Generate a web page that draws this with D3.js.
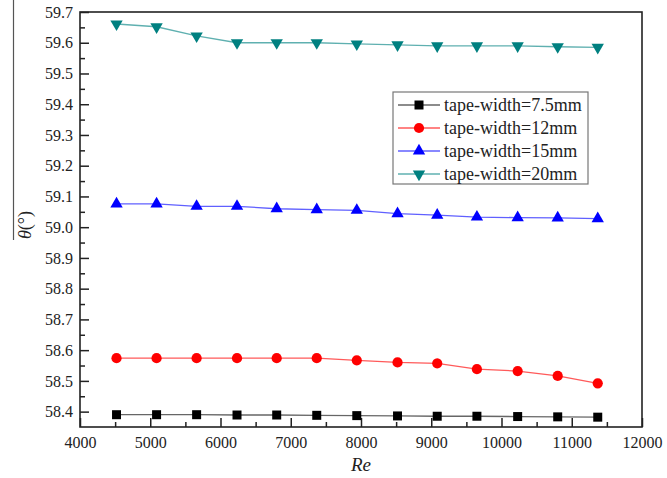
<!DOCTYPE html>
<html>
<head>
<meta charset="utf-8">
<script src="https://cdn.jsdelivr.net/npm/d3@7"></script>
<style>
  html, body { margin: 0; padding: 0; background: #fff; }
  svg, svg text { font-family: "Liberation Serif", "Times New Roman", Times, serif; }
</style>
</head>
<body>
<svg id="chart" width="667" height="478"></svg>
<script>
// Reynolds numbers shared by all four series
const reValues = [4520, 5090, 5660, 6235, 6800, 7370, 7940, 8520, 9085, 9650, 10230, 10800, 11370];

// Mean angle for each tape width
const theta75 = [58.390, 58.390, 58.390, 58.389, 58.389, 58.388, 58.387, 58.386, 58.385, 58.385, 58.384, 58.383, 58.382];
const theta12 = [58.574, 58.574, 58.574, 58.574, 58.574, 58.574, 58.567, 58.560, 58.557, 58.538, 58.532, 58.516, 58.492];
const theta15 = [59.076, 59.076, 59.068, 59.068, 59.060, 59.057, 59.055, 59.044, 59.039, 59.033, 59.031, 59.030, 59.028];
const theta20 = [59.661, 59.652, 59.622, 59.600, 59.600, 59.600, 59.596, 59.593, 59.590, 59.590, 59.590, 59.587, 59.585];

const seriesNames = ["tape-width=7.5mm", "tape-width=12mm", "tape-width=15mm", "tape-width=20mm"];

const xTicks = [4000, 5000, 6000, 7000, 8000, 9000, 10000, 11000, 12000];
const yTicks = [58.4, 58.5, 58.6, 58.7, 58.8, 58.9, 59.0, 59.1, 59.2, 59.3, 59.4, 59.5, 59.6, 59.7];

const svg = d3.select("#chart");
const plotL = 80, plotR = 642, plotT = 12, plotB = 427;
const serif = '"Liberation Serif", "Times New Roman", Times, serif';

const x = d3.scaleLinear().domain([4000, 12000]).range([plotL, plotR]);
const y = d3.scaleLinear().domain([58.35, 59.7]).range([plotB, plotT]);

const styles = [
  { marker: "#000000", line: "#666666", symbol: d3.symbolSquare, size: 81, rotate: 0 },
  { marker: "#ff0000", line: "#ff5a5a", symbol: d3.symbolCircle, size: 82, rotate: 0 },
  { marker: "#0000ff", line: "#6060ff", symbol: d3.symbolTriangle, size: 66, rotate: 0 },
  { marker: "#008080", line: "#5fb0b0", symbol: d3.symbolTriangle, size: 66, rotate: 180 }
];
const allSeries = [theta75, theta12, theta15, theta20];

// Minor ticks (inward)
const xMinor = d3.range(4500, 12000, 1000);
const yMinor = d3.range(58.45, 59.7, 0.1).map(v => +v.toFixed(2));

const axisColor = "#222";

svg.append("g")
  .attr("transform", `translate(0,${plotB})`)
  .call(d3.axisBottom(x).tickValues(xMinor).tickSize(-5).tickFormat(""))
  .call(g => g.select(".domain").remove())
  .call(g => g.selectAll("line").attr("stroke", axisColor).attr("stroke-width", 1.5));

svg.append("g")
  .attr("transform", `translate(${plotL},0)`)
  .call(d3.axisLeft(y).tickValues(yMinor).tickSize(-5).tickFormat(""))
  .call(g => g.select(".domain").remove())
  .call(g => g.selectAll("line").attr("stroke", axisColor).attr("stroke-width", 1.5));

// Major ticks and labels
svg.append("g")
  .attr("font-family", serif)
  .attr("transform", `translate(0,${plotB})`)
  .call(d3.axisBottom(x).tickValues(xTicks).tickSize(-9).tickPadding(7).tickFormat(d3.format("d")))
  .attr("font-family", serif)
  .call(g => g.select(".domain").remove())
  .call(g => g.selectAll("line").attr("stroke", axisColor).attr("stroke-width", 1.5))
  .call(g => g.selectAll("text").attr("fill", "#222").attr("font-size", 16).attr("dy", "0.9em"));

svg.append("g")
  .attr("transform", `translate(${plotL},0)`)
  .call(d3.axisLeft(y).tickValues(yTicks).tickSize(-9).tickPadding(7).tickFormat(d3.format(".1f")))
  .attr("font-family", serif)
  .call(g => g.select(".domain").remove())
  .call(g => g.selectAll("line").attr("stroke", axisColor).attr("stroke-width", 1.5))
  .call(g => g.selectAll("text").attr("fill", "#222").attr("font-size", 16));

// Frame
svg.append("rect")
  .attr("x", plotL).attr("y", plotT)
  .attr("width", plotR - plotL).attr("height", plotB - plotT)
  .attr("fill", "none").attr("stroke", axisColor).attr("stroke-width", 1.6);

// Series lines and markers
const line = d3.line().x((d, i) => x(reValues[i])).y(d => y(d));
allSeries.forEach((vals, k) => {
  const st = styles[k];
  svg.append("path")
    .attr("d", line(vals))
    .attr("fill", "none")
    .attr("stroke", st.line)
    .attr("stroke-width", 1.3);
  svg.append("g").selectAll("path")
    .data(vals)
    .join("path")
    .attr("d", d3.symbol().type(st.symbol).size(st.size))
    .attr("transform", (d, i) => `translate(${x(reValues[i])},${y(d)}) rotate(${st.rotate})`)
    .attr("fill", st.marker);
});

// Legend
const lg = svg.append("g").attr("font-family", serif);
lg.append("rect")
  .attr("x", 393).attr("y", 92).attr("width", 195).attr("height", 92)
  .attr("fill", "#fff").attr("stroke", "#777").attr("stroke-width", 1.2);
seriesNames.forEach((name, k) => {
  const st = styles[k];
  const cy = 105 + k * 23;
  lg.append("line").attr("x1", 398).attr("x2", 440).attr("y1", cy).attr("y2", cy)
    .attr("stroke", st.line).attr("stroke-width", 1.3);
  lg.append("path")
    .attr("d", d3.symbol().type(st.symbol).size(st.size)())
    .attr("transform", `translate(419,${cy}) rotate(${st.rotate})`)
    .attr("fill", st.marker);
  lg.append("text").attr("x", 444).attr("y", cy).attr("dy", "0.35em")
    .attr("font-size", 18).attr("fill", "#222").text(name);
});

// Axis titles
svg.append("text")
  .attr("x", (plotL + plotR) / 2).attr("y", 471)
  .attr("text-anchor", "middle").attr("font-size", 19).attr("font-style", "italic")
  .attr("font-family", serif).attr("fill", "#222").text("Re");

const yt = svg.append("text")
  .attr("transform", "translate(31,225) rotate(-90)")
  .attr("text-anchor", "middle").attr("font-size", 18).attr("font-family", serif).attr("fill", "#222");
yt.append("tspan").attr("font-style", "italic").text("θ");
yt.append("tspan").text("(°)");

// Overbar of the mean-angle symbol
svg.append("line")
  .attr("x1", 13.5).attr("x2", 13.5).attr("y1", 0).attr("y2", 240)
  .attr("stroke", "#555").attr("stroke-width", 1.2);
</script>
</body>
</html>
